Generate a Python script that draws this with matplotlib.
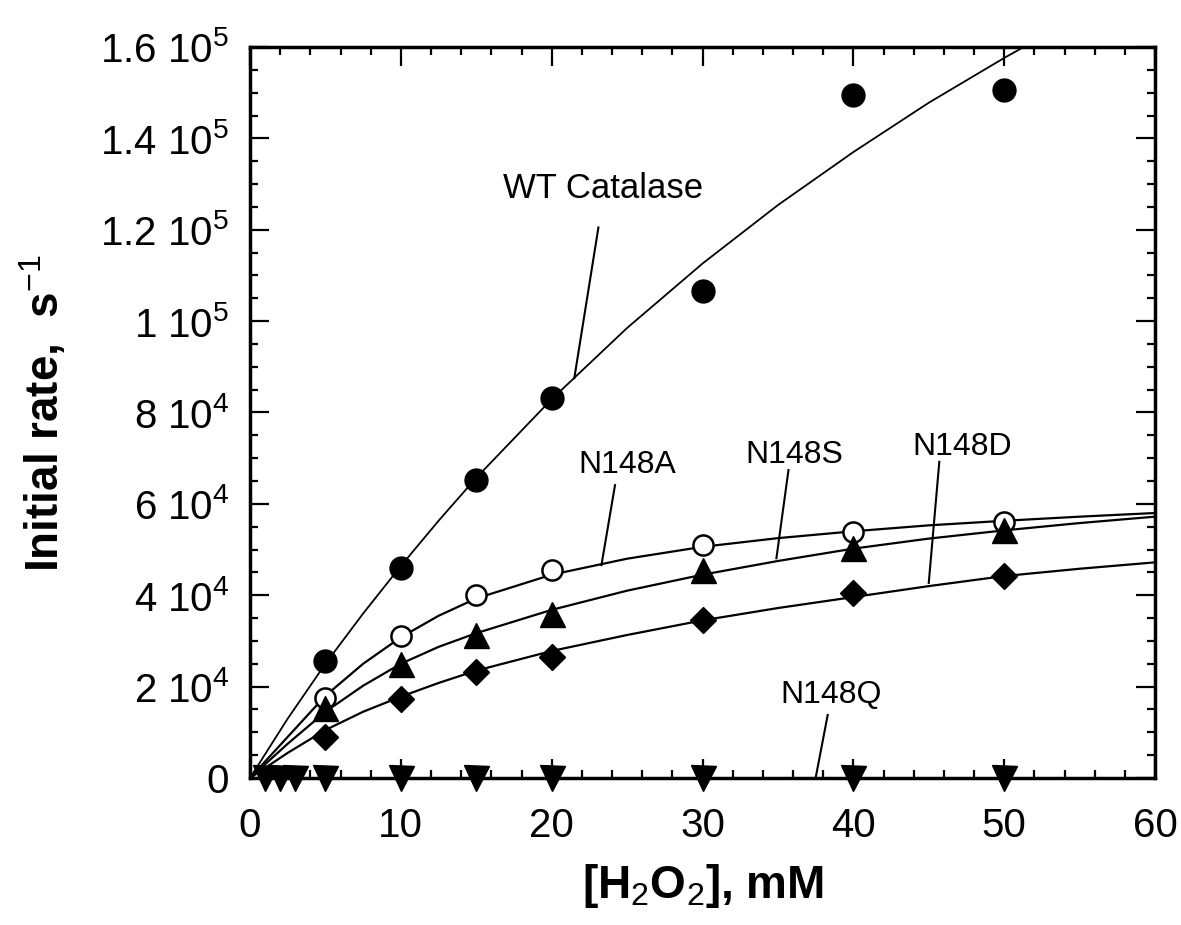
import numpy as np
import matplotlib
matplotlib.use('Agg')
import matplotlib.pyplot as plt
from matplotlib.ticker import MultipleLocator

plt.rcParams['font.family'] = ['Liberation Sans', 'DejaVu Sans']
plt.rcParams['mathtext.fontset'] = 'custom'
plt.rcParams['mathtext.rm'] = 'Liberation Sans'
plt.rcParams['mathtext.it'] = 'Liberation Sans'
plt.rcParams['mathtext.bf'] = 'Liberation Sans:bold'

# measured points, [H2O2] in mM
conc = [5, 10, 15, 20, 30, 40, 50]
wt = [2.56e4, 4.6e4, 6.52e4, 8.32e4, 1.067e5, 1.494e5, 1.505e5]
n148a = [1.76e4, 3.1e4, 4.0e4, 4.55e4, 5.1e4, 5.38e4, 5.6e4]
n148s = [1.53e4, 2.5e4, 3.12e4, 3.6e4, 4.55e4, 5.03e4, 5.43e4]
n148d = [0.9e4, 1.73e4, 2.32e4, 2.65e4, 3.46e4, 4.05e4, 4.43e4]
conc_q = [1, 2, 3, 5, 10, 15, 20, 30, 40, 50]
n148q = [0, 0, 0, 0, 0, 0, 0, 0, 0, 0]

# fitted curves
x_fit_wt = [0, 1, 2.5, 5, 7.5, 10, 12.5, 15, 20, 25, 30, 35, 40, 45, 50, 52]
wt_fit = [0, 5.2e3, 1.3e4, 2.5e4, 3.6e4, 4.64e4, 5.63e4, 6.57e4, 8.29e4, 9.85e4,
          1.126e5, 1.254e5, 1.37e5, 1.478e5, 1.576e5, 1.613e5]
x_fit = [0, 1, 2.5, 5, 7.5, 10, 12.5, 15, 20, 25, 30, 35, 40, 45, 50, 55, 60]
n148a_fit = [0, 3.6e3, 9.0e3, 1.8e4, 2.5e4, 3.08e4, 3.55e4, 3.93e4, 4.45e4, 4.8e4,
             5.06e4, 5.25e4, 5.4e4, 5.53e4, 5.63e4, 5.72e4, 5.8e4]
n148s_fit = [0, 3.0e3, 7.5e3, 1.45e4, 2.02e4, 2.5e4, 2.87e4, 3.17e4, 3.68e4, 4.1e4,
             4.45e4, 4.75e4, 5.02e4, 5.24e4, 5.42e4, 5.58e4, 5.72e4]
n148d_fit = [0, 2.2e3, 5.5e3, 1.05e4, 1.45e4, 1.78e4, 2.08e4, 2.35e4, 2.78e4, 3.13e4,
             3.45e4, 3.72e4, 3.96e4, 4.2e4, 4.42e4, 4.58e4, 4.72e4]

y_ticks = [0, 2e4, 4e4, 6e4, 8e4, 1e5, 1.2e5, 1.4e5, 1.6e5]
y_tick_labels = ['0', r'2 10$^{4}$', r'4 10$^{4}$', r'6 10$^{4}$', r'8 10$^{4}$',
                 r'1 10$^{5}$', r'1.2 10$^{5}$', r'1.4 10$^{5}$', r'1.6 10$^{5}$']

fig = plt.figure(figsize=(11.81, 9.25), dpi=100)
ax = fig.add_axes([250/1181, 1-778/925, 905/1181, 731/925])

# curves
ax.plot(x_fit_wt, wt_fit, color='k', lw=1.3)
ax.plot(x_fit, n148a_fit, color='k', lw=1.6)
ax.plot(x_fit, n148s_fit, color='k', lw=1.6)
ax.plot(x_fit, n148d_fit, color='k', lw=1.6)

# points
ax.plot(conc, wt, 'o', color='k', ms=16.5, clip_on=False, zorder=5)
ax.plot(conc, n148a, 'o', mfc='white', mec='k', mew=1.8, ms=14.5, clip_on=False, zorder=5)
ax.plot(conc, n148s, '^', color='k', ms=18, clip_on=False, zorder=5)
ax.plot(conc, n148d, 'D', color='k', ms=13.5, clip_on=False, zorder=5)
ax.plot(conc_q, n148q, 'v', color='k', ms=18, clip_on=False, zorder=6)

# labels with leader lines: text, text pos, font size, line start, line end
notes = [
    ('WT Catalase', (23.4, 1.29e5), 25, (23.1, 1.205e5), (21.5, 8.75e4)),
    ('N148A', (25.0, 6.85e4), 23, (24.2, 6.41e4), (23.3, 4.66e4)),
    ('N148S', (36.1, 7.07e4), 23, (35.7, 6.74e4), (34.9, 4.81e4)),
    ('N148D', (47.2, 7.24e4), 23, (45.7, 6.92e4), (45.0, 4.27e4)),
    ('N148Q', (38.5, 1.82e4), 23, (38.3, 1.38e4), (37.5, 0)),
]
for txt, tpos, fs, p0, p1 in notes:
    ax.text(tpos[0], tpos[1], txt, fontsize=fs, ha='center', va='center')
    ax.plot([p0[0], p1[0]], [p0[1], p1[1]], color='k', lw=1.5)

ax.set_xlim(0, 60)
ax.set_ylim(0, 1.6e5)
ax.set_xticks([0, 10, 20, 30, 40, 50, 60])
ax.xaxis.set_minor_locator(MultipleLocator(2))
ax.set_yticks(y_ticks)
ax.set_yticklabels(y_tick_labels)
ax.yaxis.set_minor_locator(MultipleLocator(5000))
ax.tick_params(which='both', direction='in', top=True, right=True, labelsize=29)
ax.tick_params(which='major', length=14, width=1.6)
ax.tick_params(which='minor', length=6, width=1.6)
ax.tick_params(axis='y', pad=15)
ax.tick_params(axis='x', pad=21)
for s in ax.spines.values():
    s.set_linewidth(2.5)

ax.set_xlabel(r'[H$_2$O$_2$], mM', fontsize=33, fontweight='bold')
ax.set_ylabel(r'Initial rate,  s$^{-1}$', fontsize=33, fontweight='bold')
ax.xaxis.set_label_coords(0.5, -0.115)
ax.yaxis.set_label_coords(-0.2, 0.5)

fig.savefig('out.png', dpi=100)
